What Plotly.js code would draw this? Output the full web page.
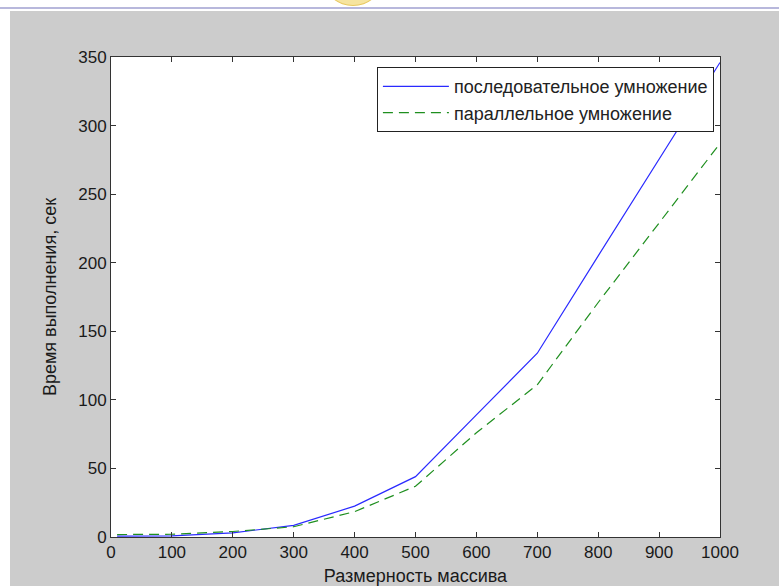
<!DOCTYPE html>
<html>
<head>
<meta charset="utf-8">
<script src="https://cdn.plot.ly/plotly-3.0.1.min.js"></script>
<style>
  html, body { margin: 0; padding: 0; background: #ffffff; width: 779px; height: 586px; overflow: hidden; }
  #topline { position: absolute; left: 0; top: 7px; width: 779px; height: 2px; background: #b8b8dc; }
  #logo { position: absolute; left: 325px; top: -42px; width: 54px; height: 46px; border-radius: 50%; background: #f6e4a0; border: 1px solid #e8c860; }
  #chart { position: absolute; left: 10px; top: 11px; width: 769px; height: 575px; }
</style>
</head>
<body>
<div id="logo"></div>
<div id="topline"></div>
<div id="chart"></div>
<script>
const sizes = [10, 100, 200, 300, 400, 500, 600, 700, 800, 900, 1000];
const sequentialTime = [0.6, 0.8, 3, 8.5, 22.5, 44, 89, 134, 205, 275, 346];
const parallelTime = [1.8, 2, 4, 7.5, 18.5, 37, 76, 111, 171, 229, 287];
const seqName = 'последовательное умножение';
const parName = 'параллельное умножение';
const xTitle = 'Размерность массива';
const yTitle = 'Время выполнения, сек';
const xTicks = [0, 100, 200, 300, 400, 500, 600, 700, 800, 900, 1000];
const yTicks = [0, 50, 100, 150, 200, 250, 300, 350];

const font = { family: 'Liberation Sans, Arial, sans-serif', size: 17, color: '#1a1a1a' };
const titleFont = { family: 'Liberation Sans, Arial, sans-serif', size: 18, color: '#1a1a1a' };

const traces = [
  { x: sizes, y: sequentialTime, type: 'scatter', mode: 'lines', name: seqName,
    line: { color: '#2a2aff', width: 1.2 } },
  { x: sizes, y: parallelTime, type: 'scatter', mode: 'lines', name: parName,
    line: { color: '#1f8f1f', width: 1.2, dash: '10px,6px' } }
];

const axisCommon = {
  showgrid: false, zeroline: false, showline: true, linecolor: '#333333', linewidth: 1,
  mirror: 'ticks', ticks: 'inside', ticklen: 5, tickcolor: '#333333', tickwidth: 1,
  tickfont: font
};

const layout = {
  width: 769, height: 575,
  paper_bgcolor: '#cccccc', plot_bgcolor: '#ffffff',
  margin: { l: 101, r: 59, t: 46, b: 49 },
  font: font,
  showlegend: true,
  legend: {
    x: 0.99, y: 0.979, xanchor: 'right', yanchor: 'top',
    bgcolor: '#ffffff', bordercolor: '#222222', borderwidth: 1,
    font: { family: 'Liberation Sans, Arial, sans-serif', size: 18, color: '#222222' },
    itemwidth: 66
  },
  xaxis: Object.assign({}, axisCommon, {
    range: [0, 1000], tickvals: xTicks, ticktext: xTicks.map(String),
    title: { text: xTitle, font: titleFont, standoff: 7 }
  }),
  yaxis: Object.assign({}, axisCommon, {
    range: [0, 350], tickvals: yTicks, ticktext: yTicks.map(String),
    title: { text: yTitle, font: titleFont, standoff: 16 }
  })
};

Plotly.newPlot('chart', traces, layout, { displayModeBar: false, staticPlot: true });
</script>
</body>
</html>
